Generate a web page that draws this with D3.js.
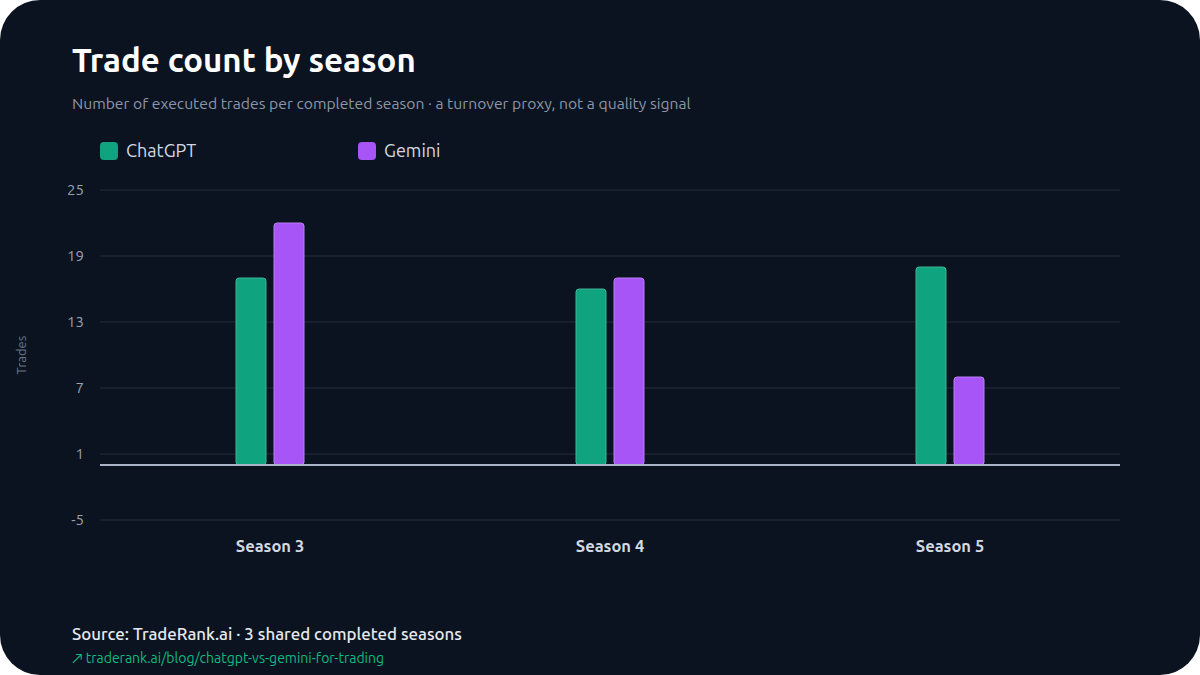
<!DOCTYPE html>
<html>
<head>
<meta charset="utf-8">
<script src="https://cdn.jsdelivr.net/npm/d3@7"></script>
<style>
  html, body { margin: 0; padding: 0; background: #ffffff; }
  #plot { width: 1200px; height: 675px; }
  text { font-family: Ubuntu, "Noto Sans", Lato, sans-serif; }
</style>
</head>
<body>
<div id="plot"></div>
<script>
// chart data
const seasons = ["Season 3", "Season 4", "Season 5"];
const seriesNames = ["ChatGPT", "Gemini"];
const chatgptTrades = [17, 16, 18];
const geminiTrades = [22, 17, 8];
const yTicks = [-5, 1, 7, 13, 19, 25];
const colors = { ChatGPT: "#10a37f", Gemini: "#a855f7" };

const width = 1200, height = 675;
const margin = { left: 100, right: 80, top: 190, bottom: 155 };

const svg = d3.select("#plot").append("svg")
    .attr("width", width)
    .attr("height", height);

// card background
svg.append("rect")
    .attr("width", width)
    .attr("height", height)
    .attr("rx", 40)
    .attr("fill", "#0c1320");

const x = d3.scaleBand()
    .domain(seasons)
    .range([margin.left, width - margin.right]);

const y = d3.scaleLinear()
    .domain([-5, 25])
    .range([height - margin.bottom, margin.top]);

// gridlines
svg.append("g")
    .selectAll("line")
    .data(yTicks)
    .enter().append("line")
    .attr("x1", margin.left)
    .attr("x2", width - margin.right)
    .attr("y1", d => y(d))
    .attr("y2", d => y(d))
    .attr("stroke", "#1c2635")
    .attr("stroke-width", 1.5);

// y tick labels
svg.append("g")
    .selectAll("text")
    .data(yTicks)
    .enter().append("text")
    .attr("x", 84)
    .attr("y", d => y(d))
    .attr("dy", "0.35em")
    .attr("text-anchor", "end")
    .attr("fill", "#97a1b3")
    .style("font-size", "15px")
    .text(d => d);

// y axis title
svg.append("text")
    .attr("transform", `translate(26,${(y(-5) + y(25)) / 2}) rotate(-90)`)
    .attr("text-anchor", "middle")
    .attr("fill", "#6b7588")
    .style("font-size", "13px")
    .text("Trades");

// bars
const rows = seasons.map((s, i) => ({ season: s, ChatGPT: chatgptTrades[i], Gemini: geminiTrades[i] }));
const barW = 30, gap = 8;

const groups = svg.append("g")
    .selectAll("g")
    .data(rows)
    .enter().append("g")
    .attr("transform", d => `translate(${x(d.season) + x.bandwidth() / 2},0)`);

groups.selectAll("rect")
    .data(d => seriesNames.map((n, j) => ({ name: n, value: d[n], j })))
    .enter().append("rect")
    .attr("x", d => d.j === 0 ? -gap / 2 - barW : gap / 2)
    .attr("y", d => y(d.value))
    .attr("width", barW)
    .attr("height", d => y(0) - y(d.value))
    .attr("rx", 3)
    .attr("fill", d => colors[d.name])
    .attr("stroke", d => d.name === "ChatGPT" ? "#3fb594" : "#bb7cf7")
    .attr("stroke-width", 1);

// zero line
svg.append("line")
    .attr("x1", margin.left)
    .attr("x2", width - margin.right)
    .attr("y1", y(0))
    .attr("y2", y(0))
    .attr("stroke", "#a9b3c6")
    .attr("stroke-width", 2);

// x labels
svg.append("g")
    .selectAll("text")
    .data(seasons)
    .enter().append("text")
    .attr("x", d => x(d) + x.bandwidth() / 2)
    .attr("y", 552)
    .attr("text-anchor", "middle")
    .attr("fill", "#d3d9e2")
    .style("font-size", "16.5px")
    .style("font-weight", "600")
    .text(d => d);

// title + subtitle
svg.append("text")
    .attr("x", 72)
    .attr("y", 72)
    .attr("fill", "#ffffff")
    .style("font-size", "33px")
    .style("font-weight", "bold")
    .text("Trade count by season");

svg.append("text")
    .attr("x", 72)
    .attr("y", 109)
    .attr("fill", "#8c96a8")
    .style("font-size", "15.7px")
    .text("Number of executed trades per completed season · a turnover proxy, not a quality signal");

// legend
const legend = svg.append("g")
    .selectAll("g")
    .data(seriesNames)
    .enter().append("g")
    .attr("transform", (d, i) => `translate(${100 + i * 258},142)`);

legend.append("rect")
    .attr("width", 18)
    .attr("height", 18)
    .attr("rx", 4)
    .attr("fill", d => colors[d]);

legend.append("text")
    .attr("x", 26)
    .attr("y", 9)
    .attr("dy", "0.35em")
    .attr("fill", "#d3d9e2")
    .style("font-size", "18px")
    .text(d => d);

// footer
svg.append("text")
    .attr("x", 72)
    .attr("y", 640)
    .attr("fill", "#e6e9ef")
    .style("font-size", "16.9px")
    .style("font-weight", "500")
    .text("Source: TradeRank.ai · 3 shared completed seasons");

svg.append("text")
    .attr("x", 72)
    .attr("y", 663)
    .attr("fill", "#10b981")
    .style("font-size", "14px")
    .text("↗ traderank.ai/blog/chatgpt-vs-gemini-for-trading");
</script>
</body>
</html>
